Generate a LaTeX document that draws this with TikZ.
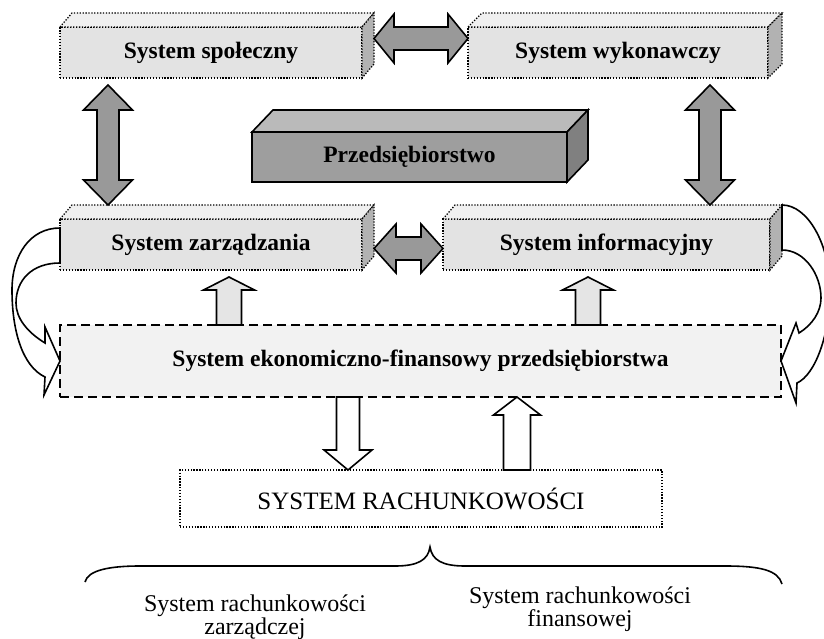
\documentclass[tikz,border=0pt]{standalone}
\usepackage{fontspec}
\setmainfont{Liberation Serif}
\usetikzlibrary{calc}

% top and side faces of a box drawn as a prism
\newcommand{\prismfaces}[4]{%
  \draw[#4top]  (#1.north west) -- ++(#2,-#3) -- ($(#1.north east)+(#2,-#3)$) -- (#1.north east) -- cycle;
  \draw[#4side] (#1.north east) -- ++(#2,-#3) -- ($(#1.south east)+(#2,-#3)$) -- (#1.south east) -- cycle;}

% block arrow with one head: from #2 to #3, shaft #4, head #5, head length #6
\newcommand{\fatsingle}[6][]{%
  \coordinate (fh) at ($(#3)!#6!(#2)$);
  \draw[#1] ($(#2)!#4!90:(#3)$) -- ($(fh)!#4!90:(#3)$) -- ($(fh)!#5!90:(#3)$) -- (#3)
    -- ($(fh)!#5!-90:(#3)$) -- ($(fh)!#4!-90:(#3)$) -- ($(#2)!#4!-90:(#3)$) -- cycle;}

% block arrow with two heads
\newcommand{\fatdouble}[6][]{%
  \coordinate (fh1) at ($(#3)!#6!(#2)$);
  \coordinate (fh2) at ($(#2)!#6!(#3)$);
  \draw[#1] (#2) -- ($(fh2)!#5!90:(#3)$) -- ($(fh2)!#4!90:(#3)$) -- ($(fh1)!#4!90:(#3)$)
    -- ($(fh1)!#5!90:(#3)$) -- (#3) -- ($(fh1)!#5!-90:(#3)$) -- ($(fh1)!#4!-90:(#3)$)
    -- ($(fh2)!#4!-90:(#3)$) -- ($(fh2)!#5!-90:(#3)$) -- cycle;}

\begin{document}
\begin{tikzpicture}[
  x=1pt, y=-1pt,
  sbox/.style={draw, dash pattern=on 1.3pt off 1.6pt, line width=1.3pt, fill=black!11,
               minimum width=302pt, minimum height=51pt, inner sep=0pt, outer sep=0pt,
               font=\fontsize{23.5}{28}\selectfont\bfseries},
  stop/.style={draw, dash pattern=on 1.3pt off 1.6pt, line width=1.3pt, fill=black!6},
  sside/.style={draw, dash pattern=on 1.3pt off 1.6pt, line width=1.3pt, fill=black!30},
  pbox/.style={draw, line width=1.6pt, fill=black!38,
               minimum width=315pt, minimum height=50pt, inner sep=0pt, outer sep=0pt,
               font=\fontsize{23.5}{28}\selectfont\bfseries},
  ptop/.style={draw, line width=1.6pt, fill=black!27, line join=miter},
  pside/.style={draw, line width=1.6pt, fill=black!50, line join=miter},
  ebox/.style={draw, line width=1.6pt, dash pattern=on 9pt off 5pt, fill=black!5,
               minimum width=721pt, minimum height=72pt, inner sep=0pt, outer sep=0pt,
               font=\fontsize{23.5}{28}\selectfont\bfseries},
  rbox/.style={draw, dash pattern=on 1.3pt off 1.6pt, line width=1.3pt, fill=white,
               minimum width=482pt, minimum height=57pt, inner sep=0pt, outer sep=0pt,
               font=\fontsize{25}{28}\selectfont},
  garr/.style={draw, line width=1.6pt, fill=black!40, line join=miter},
  oarr/.style={draw, line width=1.6pt, fill=black!10, line join=miter},
  warr/.style={draw, line width=1.6pt, fill=white, line join=miter},
  curv/.style={draw, line width=1.6pt, fill=white, line join=miter},
  lbl/.style={font=\fontsize{24}{23}\selectfont, align=center},
]

  \useasboundingbox (0,0) rectangle (824,639);

  % Row 1 - social and executive systems

  \node[sbox] (soc) at (211,52.5) {System społeczny};
  \prismfaces{soc}{12}{14}{s}
  \node[sbox, minimum width=300pt] (wyk) at (618,52.5) {System wykonawczy};
  \prismfaces{wyk}{14}{14}{s}

  % Enterprise

  \node[pbox] (przed) at (409.5,157) {Przedsiębiorstwo};
  \prismfaces{przed}{21}{22}{p}

  % Row 2 - management and information systems

  \node[sbox] (zarz) at (211,244.5) {System zarządzania};
  \prismfaces{zarz}{12}{14}{s}
  \node[sbox, minimum width=327pt] (inf) at (606.5,244.5) {System informacyjny};
  \prismfaces{inf}{12}{14}{s}

  % Economic-financial system and accounting

  \node[ebox] (ekon) at (420.5,361) {System ekonomiczno-finansowy przedsiębiorstwa};
  \node[rbox] (rach) at (421,498.5) {SYSTEM RACHUNKOWOŚCI};

  % Arrows - gray two-headed

  \coordinate (h1a) at ($(soc.east)+(12,-14)$);
  \coordinate (h1b) at (wyk.west |- h1a);
  \fatdouble[garr]{h1a}{h1b}{11.5pt}{24.5pt}{20pt}

  \coordinate (v1a) at ($(soc.south west)+(48,7)$);
  \coordinate (v1b) at ($(zarz.north west)+(48,-14)$);
  \fatdouble[garr]{v1a}{v1b}{11pt}{24.5pt}{25pt}

  \coordinate (v2a) at ($(wyk.south west)+(242,7)$);
  \coordinate (v2b) at ($(inf.north west)+(267,-14)$);
  \fatdouble[garr]{v2a}{v2b}{11pt}{24.5pt}{25pt}

  \coordinate (h2a) at ($(zarz.east)+(12,4)$);
  \coordinate (h2b) at (inf.west |- h2a);
  \fatdouble[garr]{h2a}{h2b}{11.5pt}{24.5pt}{22pt}

  % Arrows - open, between ekon and the boxes

  \coordinate (u1a) at ($(ekon.north west)+(169,0)$);
  \coordinate (u1b) at ($(u1a |- zarz.south)+(0,7)$);
  \fatsingle[oarr]{u1a}{u1b}{12.5pt}{25.5pt}{13pt}

  \coordinate (u2a) at ($(ekon.north west)+(528,0)$);
  \coordinate (u2b) at ($(u2a |- inf.south)+(0,7)$);
  \fatsingle[oarr]{u2a}{u2b}{12.5pt}{25.5pt}{13pt}

  \coordinate (d1a) at ($(ekon.south west)+(288,0)$);
  \coordinate (d1b) at (d1a |- rach.north);
  \fatsingle[warr]{d1a}{d1b}{11.5pt}{24pt}{20pt}

  \coordinate (u3a) at ($(rach.north west)+(337,0)$);
  \coordinate (u3b) at (u3a |- ekon.south);
  \fatsingle[warr]{u3a}{u3b}{13.5pt}{23.5pt}{18pt}

  % Curved arrows - left and right loops into ekon

  \coordinate (lc1) at ($(zarz.north west)+(0,9)$);
  \coordinate (lc2) at ($(zarz.north west)+(0,44)$);
  \draw[curv] (lc1) .. controls (30,228) and (12,255) .. (12,290)
    .. controls (12,330) and (22,366) .. (45,377) -- (44,395) -- (ekon.west)
    -- (45,327) -- (45,343) .. controls (27,332) and (16,318) .. (16,303)
    .. controls (16,280) and (32,263) .. (lc2) -- cycle;

  \coordinate (rc1) at ($(inf.north east)+(12,-14)$);
  \coordinate (rc2) at ($(inf.north east)+(12,31)$);
  \draw[curv] (rc1) .. controls (808,205) and (830,245) .. (830,290)
    .. controls (830,335) and (815,375) .. (797,383) -- (796,403) -- (ekon.east)
    -- (796,323) -- (799,333) .. controls (812,325) and (821,312) .. (821,298)
    .. controls (821,275) and (805,250) .. (rc2) -- cycle;

  % Brace and the two kinds of accounting

  \coordinate (bt) at ($(rach.south)+(9,20)$);
  \draw[line width=1.6pt] (85,582) .. controls (88,570) and (110,566) .. (140,566) -- (395,566)
    .. controls (418,566) and (428,560) .. (bt)
    .. controls (432,560) and (442,566) .. (465,566) -- (725,566)
    .. controls (760,566) and (778,570) .. (782,584);

  \node[lbl] (rz) at (255,617) {System rachunkowości\\zarządczej};
  \node[lbl] (rf) at (580,609) {System rachunkowości\\finansowej};

\end{tikzpicture}
\end{document}
